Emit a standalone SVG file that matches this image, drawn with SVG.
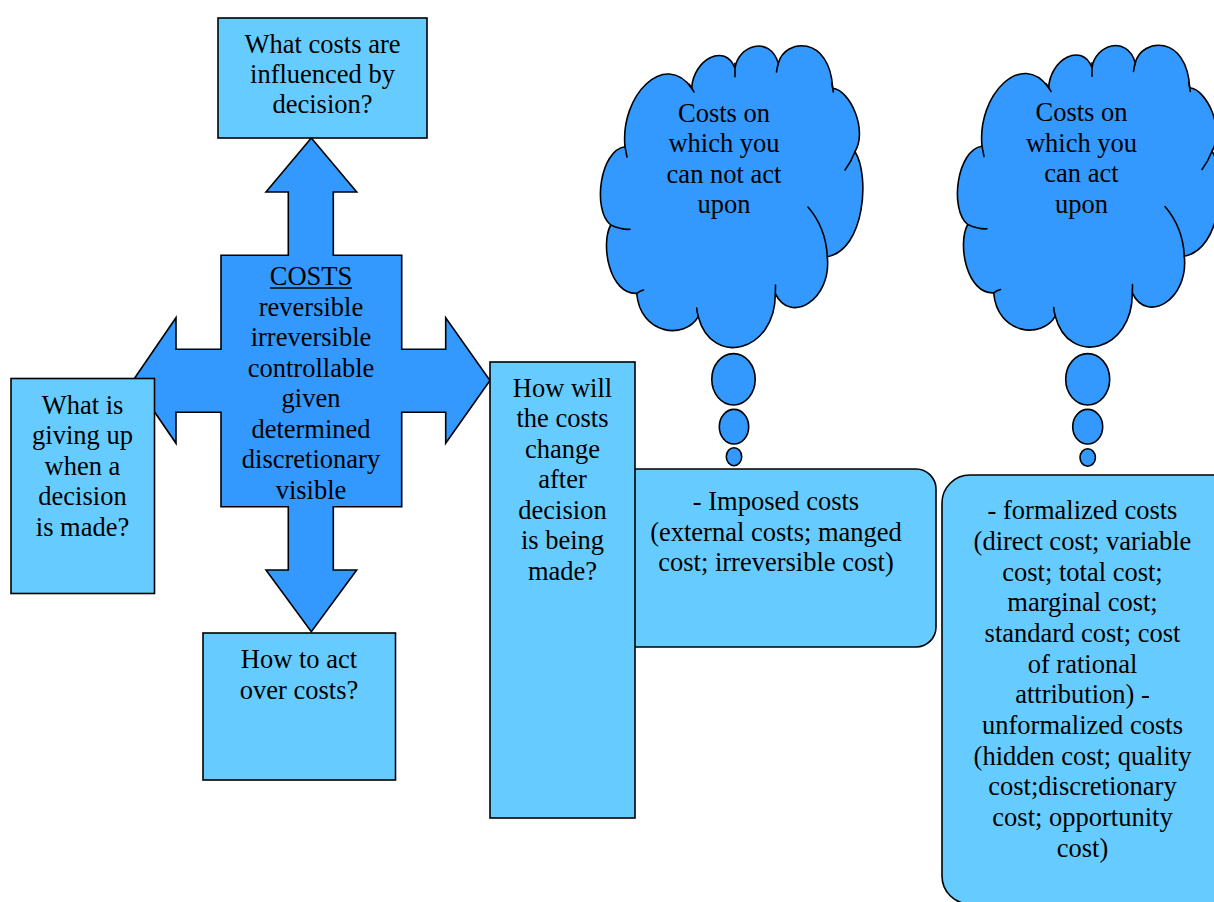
<svg xmlns="http://www.w3.org/2000/svg" width="1214" height="902" viewBox="0 0 1214 902">
  <style>
    .light { fill: #66CCFF; stroke: #000; stroke-width: 1.6; }
    .dark { fill: #3399FF; stroke: #000; stroke-width: 1.6; stroke-linejoin: miter; }
    .crease { fill: none; stroke: #000; stroke-width: 1.6; stroke-linecap: round; }
    text { font-size: 26.5px; fill: #000; text-anchor: middle; }
  </style>
  <defs>
    <!-- cloud outline, drawn around the first cloud's position -->
    <path id="cloudShape" d="M625,146.7 C620,95 665,50 691.7,88.3 C693,60 725,42 735,68.3 C738,45 770,35 778.3,63.3 C785,38 830,35 832.7,88.3 C850,90 868,130 855,151.7 C870,175 865,250 827.3,256.7 C832,300 790,325 775.3,293.3 C776,352 712,368 698.3,316.7 C685,340 640,335 636.7,293.3 C610,295 600,245 610.7,225 C592,210 600,150 625,146.7 Z"/>
    <g id="cloudCreases">
      <path d="M625,146.7 Q626,152 627,157"/>
      <path d="M689,84 Q692,88 694,92"/>
      <path d="M735,63.3 L735,76.7"/>
      <path d="M778.3,63.3 Q777,68 776.5,72"/>
      <path d="M831.7,83.3 Q833,88 833.3,92"/>
      <path d="M855,151.7 Q851,162 845,170"/>
      <path d="M808,207 Q826,228 827.3,256.7"/>
      <path d="M775.3,293.3 Q775.5,289 775.5,285"/>
      <path d="M698.3,316.7 Q697,312 696.7,308"/>
      <path d="M636.7,293.3 Q640,291 643.5,290"/>
      <path d="M610.7,225 Q622,230 630,229.3"/>
    </g>
  </defs>

  <g font-family="'Liberation Serif', 'Times New Roman', Tinos, 'DejaVu Serif', serif">
  <!-- cost categories cross -->
  <g id="costs-cross">
    <polygon class="dark" points="311.3,138 356.7,192 333.3,192 333.3,255.3 401.7,255.3 401.7,349.3 445.7,349.3 445.7,317.7 490,380.5 445.7,443.3 445.7,412.3 401.7,412.3 401.7,506.7 333.3,506.7 333.3,570 356.7,570 311.3,631.7 266,570 288.3,570 288.3,506.7 221,506.7 221,412.3 176,412.3 176,443.3 133,380.5 176,317.7 176,349.3 221,349.3 221,255.3 288.3,255.3 288.3,192 266,192"/>
    <text x="311" y="285">COSTS</text>
    <line x1="270" y1="288" x2="352" y2="288" stroke="#000" stroke-width="1.5"/>
    <text x="311" y="315.5">reversible</text>
    <text x="311" y="346">irreversible</text>
    <text x="311" y="376.5">controllable</text>
    <text x="311" y="407">given</text>
    <text x="311" y="437.5">determined</text>
    <text x="311" y="468">discretionary</text>
    <text x="311" y="498.5">visible</text>
  </g>

  <!-- question boxes -->
  <g id="influenced">
    <rect class="light" x="218" y="18" width="209" height="120"/>
    <text x="322.5" y="53">What costs are</text>
    <text x="322.5" y="83">influenced by</text>
    <text x="322.5" y="113">decision?</text>
  </g>

  <g id="giving-up">
    <rect class="light" x="11" y="378.5" width="143.5" height="215"/>
    <text x="82.5" y="413.5">What is</text>
    <text x="82.5" y="444">giving up</text>
    <text x="82.5" y="474.5">when a</text>
    <text x="82.5" y="505">decision</text>
    <text x="82.5" y="535.5">is made?</text>
  </g>

  <g id="act-over">
    <rect class="light" x="203" y="633" width="192.5" height="147"/>
    <text x="299" y="667.5">How to act</text>
    <text x="299" y="699">over costs?</text>
  </g>

  <!-- cost groups -->
  <g id="imposed">
    <rect class="light" x="616" y="469" width="320" height="178" rx="20" ry="20"/>
    <text x="776" y="510">- Imposed costs</text>
    <text x="776" y="540.5">(external costs; manged</text>
    <text x="776" y="571">cost; irreversible cost)</text>
  </g>

  <g id="costs-change">
    <rect class="light" x="490" y="362" width="145" height="456"/>
    <text x="562.5" y="396.5">How will</text>
    <text x="562.5" y="427">the costs</text>
    <text x="562.5" y="457.5">change</text>
    <text x="562.5" y="488">after</text>
    <text x="562.5" y="518.5">decision</text>
    <text x="562.5" y="549">is being</text>
    <text x="562.5" y="579.5">made?</text>
  </g>

  <g id="formalized">
    <rect class="light" x="942" y="475" width="300" height="429" rx="28" ry="28"/>
    <text x="1082.5" y="519.3">- formalized costs</text>
    <text x="1082.5" y="550">(direct cost; variable</text>
    <text x="1082.5" y="580.7">cost; total cost;</text>
    <text x="1082.5" y="611.3">marginal cost;</text>
    <text x="1082.5" y="642">standard cost; cost</text>
    <text x="1082.5" y="672.7">of rational</text>
    <text x="1082.5" y="703.3">attribution) -</text>
    <text x="1082.5" y="734">unformalized costs</text>
    <text x="1082.5" y="764.7">(hidden cost; quality</text>
    <text x="1082.5" y="795.3">cost;discretionary</text>
    <text x="1082.5" y="826">cost; opportunity</text>
    <text x="1082.5" y="856.7">cost)</text>
  </g>

  <!-- thought clouds -->
  <g id="cloud-cannot-act">
    <use href="#cloudShape" class="dark"/>
    <use href="#cloudCreases" class="crease"/>
    <ellipse class="dark" cx="733.5" cy="379.3" rx="21.7" ry="25.7"/>
    <ellipse class="dark" cx="734" cy="426.7" rx="14.7" ry="17.3"/>
    <ellipse class="dark" cx="734" cy="456.7" rx="7.7" ry="9"/>
    <text x="724" y="121.5">Costs on</text>
    <text x="724" y="152">which you</text>
    <text x="724" y="182.5">can not act</text>
    <text x="724" y="213">upon</text>
  </g>

  <g id="cloud-can-act">
    <g transform="translate(357,-0.5)">
      <use href="#cloudShape" class="dark"/>
      <use href="#cloudCreases" class="crease"/>
    </g>
    <ellipse class="dark" cx="1087.7" cy="379.3" rx="22" ry="25.7"/>
    <ellipse class="dark" cx="1087.7" cy="426.7" rx="15" ry="17.3"/>
    <ellipse class="dark" cx="1087.7" cy="457.5" rx="7.7" ry="8.7"/>
    <text x="1081.5" y="121">Costs on</text>
    <text x="1081.5" y="151.5">which you</text>
    <text x="1081.5" y="182">can act</text>
    <text x="1081.5" y="212.5">upon</text>
  </g>
  </g>

  <!-- connectors: the cross arrows and thought bubbles carry the links -->
  <g id="connectors"/>
</svg>
